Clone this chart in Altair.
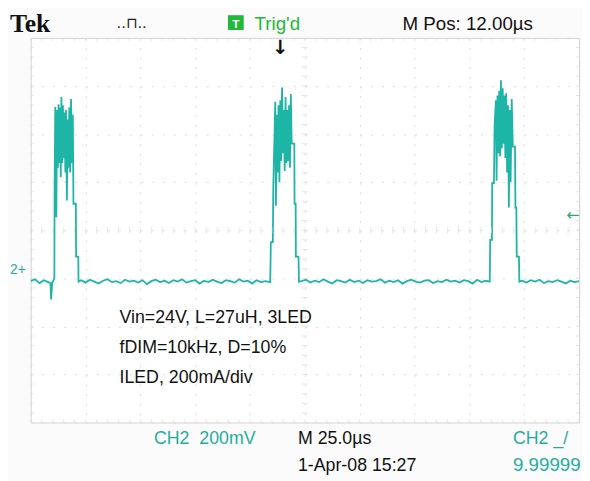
import altair as alt
import pandas as pd
import numpy as np

# ---- CH2 trace: time in µs from left edge (25 µs/div), level in divisions ----
t_a = [0, 2, 4, 6, 8]
v_a = [-1.06, -1.02, -1.10, -1.04, -1.08]

t_p1 = [9.0, 9.3, 9.8, 10.3, 10.8, 10.9, 11.2, 11.5, 11.7, 12.0, 12.4, 12.7, 13.0, 13.4, 13.7, 14.0,
        14.4, 14.7, 15.0, 15.4, 15.8, 16.1, 16.5, 16.9, 17.2, 17.6, 18.0, 18.4, 18.8, 19.2, 19.5,
        20.6, 20.7, 21.7, 21.8]
v_p1 = [-1.10, -1.44, -1.10, -1.05, -1.00, 0.88, 2.56, 1.20, 0.27, 2.50, 1.30, 2.62, 1.40, 2.55, 1.10,
        2.77, 1.40, 2.60, 1.50, 2.45, 1.20, 2.50, 0.62, 2.30, 1.30, 2.55, 1.20, 2.73, 1.40, 2.40, 0.55,
        0.55, -0.55, -0.55, -1.07]

t_b = [23, 25, 27, 29, 31, 33, 35, 37, 39, 41, 43, 45, 47, 49, 51, 53, 55, 57, 59, 61, 63, 65, 67,
       69, 71, 73, 75, 77, 79, 81, 83, 85, 87, 89, 91, 93, 95, 97, 99, 101, 103, 105, 107]
v_b = [-1.04, -1.09, -1.03, -1.07, -1.11, -1.05, -1.02, -1.08, -1.06, -1.10, -1.03, -1.07, -1.05,
       -1.09, -1.04, -1.12, -1.06, -1.03, -1.08, -1.05, -1.10, -1.04, -1.07, -1.02, -1.09, -1.06,
       -1.04, -1.11, -1.05, -1.08, -1.03, -1.07, -1.10, -1.04, -1.06, -1.09, -1.02, -1.07, -1.05,
       -1.11, -1.04, -1.08, -1.06]

t_p2 = [109.2, 109.5, 110.4, 110.6, 111.5, 111.8, 112.2, 112.6, 113.0, 113.4, 113.8, 114.2, 114.6,
        115.0, 115.4, 115.8, 116.2, 116.6, 117.0, 117.4, 117.8, 118.2, 118.6, 119.0, 120.2, 120.3,
        120.8, 120.9, 122.1, 122.3]
v_p2 = [-1.08, -0.25, -0.25, 0.86, 2.67, 0.51, 2.40, 1.20, 2.60, 1.00, 2.70, 1.44, 2.97, 1.60, 2.50,
        1.23, 2.77, 1.40, 2.50, 1.44, 2.60, 1.30, 2.83, 1.80, 1.80, 0.55, 0.55, -0.55, -0.55, -1.07]

t_c = [123.5, 125.5, 127.5, 129.5, 131.5, 133.5, 135.5, 137.5, 139.5, 141.5, 143.5, 145.5, 147.5,
       149.5, 151.5, 153.5, 155.5, 157.5, 159.5, 161.5, 163.5, 165.5, 167.5, 169.5, 171.5, 173.5,
       175.5, 177.5, 179.5, 181.5, 183.5, 185.5, 187.5, 189.5, 191.5, 193.5, 195.5, 197.5, 199.5,
       201.5, 203.5, 205.5, 207.5]
v_c = [-1.06, -1.03, -1.09, -1.05, -1.08, -1.02, -1.07, -1.11, -1.04, -1.06, -1.09, -1.03, -1.08,
       -1.05, -1.10, -1.04, -1.07, -1.06, -1.02, -1.09, -1.05, -1.08, -1.04, -1.11, -1.06, -1.03,
       -1.07, -1.09, -1.05, -1.04, -1.10, -1.06, -1.08, -1.03, -1.07, -1.05, -1.09, -1.04, -1.06,
       -1.11, -1.03, -1.08, -1.05]

t_p3 = [209.3, 209.5, 210.3, 210.4, 211.2, 211.5, 212.1, 212.4, 212.8, 213.2, 213.6, 214.0, 214.4,
        214.8, 215.2, 215.6, 216.0, 216.4, 216.8, 217.2, 217.6, 218.0, 218.4, 218.8, 219.3, 219.8,
        220.8, 221.0, 221.4, 221.6, 222.6, 222.8]
v_p3 = [-1.07, -0.20, -0.20, 0.98, 0.98, 2.20, 2.70, 1.03, 2.80, 1.60, 2.90, 1.54, 3.12, 1.70, 2.95,
        1.80, 2.80, 1.50, 2.85, 1.20, 2.60, 0.47, 2.50, 1.00, 2.73, 1.74, 1.74, 0.47, 0.47, -0.55,
        -0.55, -1.07]

t_d = [224, 226, 228, 230, 232, 234, 236, 238, 240, 242, 244, 246, 248, 250]
v_d = [-1.05, -1.09, -1.04, -1.07, -1.03, -1.10, -1.06, -1.08, -1.04, -1.07, -1.11, -1.05, -1.08, -1.06]

x_divs = [0, 25, 50, 75, 100, 125, 150, 175, 200, 225, 250]
y_divs = [-4, -3, -2, -1, 0, 1, 2, 3, 4]

TRACE = "#1db5a6"
TEAL_TXT = "#1fae9c"
GREEN = "#22b83a"
GRID = "#dcdcdc"

trace = pd.DataFrame({"t": t_a + t_p1 + t_b + t_p2 + t_c + t_p3 + t_d,
                      "v": v_a + v_p1 + v_b + v_p2 + v_c + v_p3 + v_d})

X = alt.Scale(domain=[0, 250], nice=False, zero=False)
Y = alt.Scale(domain=[-4, 4], nice=False, zero=False)

line = alt.Chart(trace).mark_line(color=TRACE, strokeWidth=1.8, clip=True).encode(
    x=alt.X("t:Q", scale=X, axis=alt.Axis(values=x_divs, grid=True, gridDash=[2, 7.75],
                                           gridColor=GRID, labels=False, ticks=False,
                                           domain=False, title=None)),
    y=alt.Y("v:Q", scale=Y, axis=alt.Axis(values=y_divs, grid=True, gridDash=[2, 9.12],
                                           gridColor=GRID, labels=False, ticks=False,
                                           domain=False, title=None)),
    order=alt.Order("t:Q"),
)

# graticule minor ticks (1/5 division) on centre lines and borders
minor_t = pd.DataFrame({"t": np.arange(0, 250.01, 5.0)})
minor_v = pd.DataFrame({"v": np.arange(-4, 4.01, 0.2)})
ticks = []
for yy in [-4, 0, 4]:
    ticks.append(alt.Chart(minor_t).mark_tick(orient="vertical", size=6, thickness=1,
                                              color=GRID, clip=True)
                 .encode(x=alt.X("t:Q", scale=X), y=alt.datum(yy)))
for xx in [0, 125, 250]:
    ticks.append(alt.Chart(minor_v).mark_tick(orient="horizontal", size=6, thickness=1,
                                              color=GRID, clip=True)
                 .encode(y=alt.Y("v:Q", scale=Y), x=alt.datum(xx)))

one = pd.DataFrame({"k": [0]})


def txt(s, x, y, size, color="#111111", font="Liberation Sans", weight="normal",
        align="left", baseline="alphabetic"):
    return alt.Chart(one).mark_text(text=s, fontSize=size, color=color, font=font,
                                    fontWeight=weight, align=align, baseline=baseline).encode(
        x=alt.value(x), y=alt.value(y))


tbox = alt.Chart(one).mark_rect(color=GREEN).encode(
    x=alt.value(200), x2=alt.value(216), y=alt.value(-23), y2=alt.value(-8))

NB = "\u00a0"
labels = [
    txt("Tek", -21, -6, 26, "#111111", font="Liberation Serif", weight="bold"),
    txt("..⊓..", 87, -10, 15, "#222222", font="DejaVu Sans"),
    tbox,
    txt("T", 208, -10, 12, "white", weight="bold", align="center"),
    txt("Trig'd", 227, -8, 19, GREEN),
    txt("M Pos: 12.00µs", 377, -8, 19),
    txt("↓", 253, 0, 20, "#111111", font="DejaVu Sans", weight="bold", align="center",
        baseline="top"),
    txt("←", 543, 180, 16, "#2aa870", font="DejaVu Sans", baseline="middle"),
    txt("2+", -21, 235, 14, TEAL_TXT, baseline="middle"),
    txt("Vin=24V, L=27uH, 3LED", 90, 289, 18),
    txt("fDIM=10kHz, D=10%", 90, 320, 18),
    txt("ILED, 200mA/div", 90, 350, 18),
    txt("CH2" + NB + NB + "200mV", 125, 412, 18, TEAL_TXT),
    txt("M 25.0µs", 271, 412, 18),
    txt("CH2 _/", 489, 412, 18, TEAL_TXT),
    txt("1-Apr-08 15:27", 271, 439, 18),
    txt("9.99999", 489, 439, 19, TEAL_TXT),
]

chart = alt.layer(line, *ticks, *labels).properties(
    width=556, height=390,
    padding={"left": 23, "top": 27, "right": 3, "bottom": 56},
    autosize=alt.AutoSizeParams(type="none"),
    background="#fbfbfb",
).configure_view(stroke="#d2d2d2", fill="white")

chart.save("out.html", embed_options={"renderer": "svg", "actions": False})
